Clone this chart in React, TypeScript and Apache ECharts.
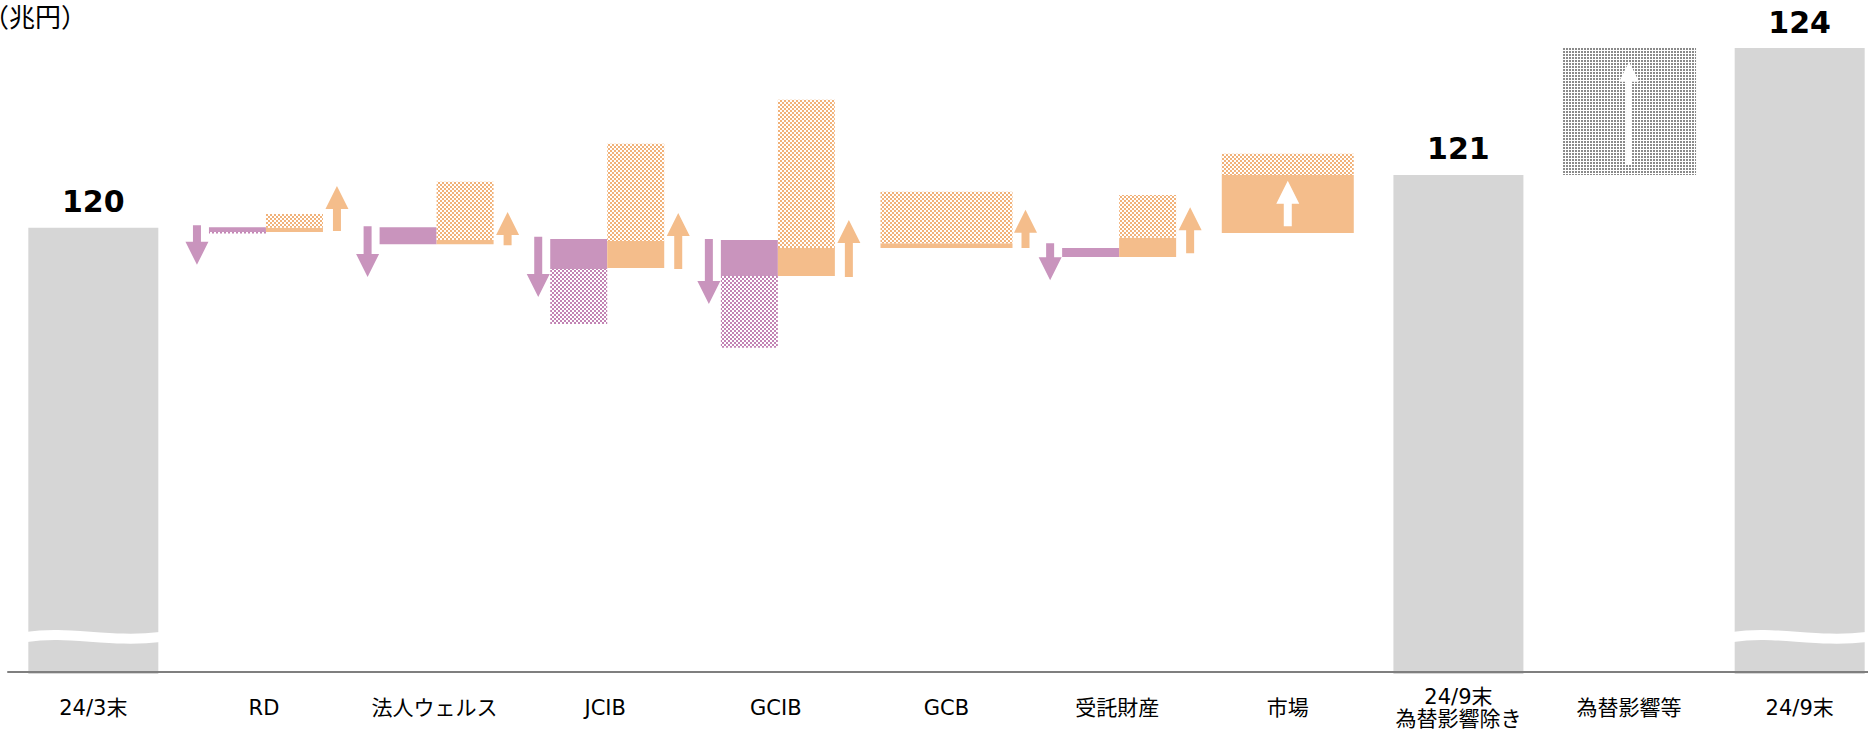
import React, { useEffect, useRef } from 'react';
import * as echarts from 'echarts';

// ---------- data (兆円) ----------
const N = null;
const categories = [
  '24/3末', 'RD', '法人ウェルス', 'JCIB', 'GCIB', 'GCB', '受託財産', '市場',
  '24/9末\n為替影響除き', '為替影響等', '24/9末',
];
// balance bars
const totals: (number | null)[] = [120.4, N, N, N, N, N, N, N, 121.4, N, 123.8];
// decrease (purple): solid part and hatched extension
const decreaseStart: (number | null)[] = [N, 120.41, 120.41, 120.19, 120.17, N, 120.02, N, N, N, N];
const decreaseEnd: (number | null)[] = [N, 120.32, 120.09, 119.62, 119.49, N, 119.85, N, N, N, N];
const decreaseExtraEnd: (number | null)[] = [N, 120.29, N, 118.58, 118.13, N, N, N, N, N, N];
// increase (orange): solid part and hatched extension
const increaseStart: (number | null)[] = [N, 120.32, 120.09, 119.64, 119.49, 120.02, 119.85, 120.3, N, N, N];
const increaseEnd: (number | null)[] = [N, 120.4, 120.17, 120.15, 120.02, 120.11, 120.21, 121.4, N, N, N];
const increaseExtraEnd: (number | null)[] = [N, 120.66, 121.27, 121.99, 122.82, 121.08, 121.02, 121.8, N, N, N];
// FX effect
const fxStart: (number | null)[] = [N, N, N, N, N, N, N, N, N, 121.4, N];
const fxEnd: (number | null)[] = [N, N, N, N, N, N, N, N, N, 123.8, N];
// arrows
const downArrowStart: (number | null)[] = [N, 120.45, 120.43, 120.23, 120.19, N, 120.11, N, N, N, N];
const downArrowEnd: (number | null)[] = [N, 119.7, 119.47, 119.09, 118.96, N, 119.41, N, N, N, N];
const upArrowStart: (number | null)[] = [N, 120.34, 120.07, 119.62, 119.47, 120.02, 119.92, 120.43, N, 121.59, N];
const upArrowEnd: (number | null)[] = [N, 121.19, 120.7, 120.68, 120.55, 120.74, 120.79, 121.29, N, 123.54, N];

// ---------- styling ----------
const Y_MIN = 112;
const Y_MAX = 124.5;
const BREAK_VALUE = 112.68;
const brokenBars = new Set([0, 10]);
const wideBars = new Set([5, 7]);
const innerArrow = new Set([7, 9]);
const GRAY = '#D6D6D6';
const PURPLE = '#C994BD';
const ORANGE = '#F4BD8B';

function makePattern(color: string, tile: number, cells: number[][]) {
  const c = document.createElement('canvas');
  c.width = tile;
  c.height = tile;
  const ctx = c.getContext('2d')!;
  ctx.fillStyle = '#ffffff';
  ctx.fillRect(0, 0, tile, tile);
  ctx.fillStyle = color;
  cells.forEach(([x, y, w, h]) => ctx.fillRect(x, y, w, h));
  return { image: c.toDataURL(), repeat: 'repeat', imageWidth: tile, imageHeight: tile } as any;
}

const checkerCells = [[0, 0, 2, 2], [2, 2, 2, 2]];

export default function App() {
  const ref = useRef<HTMLDivElement>(null);
  useEffect(() => {
    if (!ref.current) return;
    const chart = echarts.init(ref.current, undefined, { renderer: 'svg' });
    const orangePat = makePattern('#F1B27A', 4, checkerCells);
    const purplePat = makePattern('#C283B4', 4, checkerCells);
    const grayPat = makePattern('#8a8a8a', 3, [[0, 0, 2, 2]]);

    const renderItem = (params: any, api: any) => {
      const i = params.dataIndex;
      const cx = api.coord([i, Y_MIN])[0];
      const Y = (v: number) => api.coord([i, v])[1];
      const children: any[] = [];
      const rect = (x0: number, x1: number, v0: number, v1: number, fill: any) => {
        const a = Y(v0);
        const b = Y(v1);
        children.push({
          type: 'rect',
          shape: { x: x0, y: Math.min(a, b), width: x1 - x0, height: Math.abs(b - a) },
          style: { fill },
        });
      };
      const arrow = (x: number, v0: number, v1: number, fill: string, up: boolean, head: number, shaft: number) => {
        const y0 = Y(v0);
        const y1 = Y(v1);
        const d = up ? 1 : -1;
        const yh = y1 + d * head;
        children.push({
          type: 'polygon',
          shape: {
            points: [
              [x - shaft / 2, y0], [x - shaft / 2, yh], [x - head / 2, yh], [x, y1],
              [x + head / 2, yh], [x + shaft / 2, yh], [x + shaft / 2, y0],
            ],
          },
          style: { fill },
        });
      };

      const t = totals[i];
      if (t != null) {
        const a = Y(t);
        const base = Y(Y_MIN) + 2;
        children.push({
          type: 'rect',
          shape: { x: cx - 65, y: a, width: 130, height: base - a },
          style: { fill: GRAY },
        });
        if (brokenBars.has(i)) {
          const yb = Y(BREAK_VALUE);
          children.push({
            type: 'bezierCurve',
            shape: {
              x1: cx - 67, y1: yb + 1, cpx1: cx - 25, cpy1: yb - 6,
              cpx2: cx + 15, cpy2: yb + 7, x2: cx + 67, y2: yb + 1,
            },
            style: { stroke: '#ffffff', lineWidth: 10, fill: null },
          });
        }
        children.push({
          type: 'text',
          style: {
            text: String(Math.round(t)),
            x: cx,
            y: a - 26,
            align: 'center',
            verticalAlign: 'middle',
            font: 'bold 30px "DejaVu Sans", Verdana, sans-serif',
            fill: '#000000',
          },
        });
      }

      const fs = fxStart[i];
      const fe = fxEnd[i];
      if (fs != null && fe != null) {
        rect(cx - 66, cx + 67, fs, fe, grayPat);
      }

      const ds = decreaseStart[i];
      const de = decreaseEnd[i];
      const is = increaseStart[i];
      const ie = increaseEnd[i];
      const ix = increaseExtraEnd[i];
      const b = cx + 2;
      if (ds != null && de != null) {
        rect(b - 57, b, ds, de, PURPLE);
        const dx = decreaseExtraEnd[i];
        if (dx != null) rect(b - 57, b, de, dx, purplePat);
      }
      if (is != null && ie != null) {
        const wide = wideBars.has(i);
        const x0 = wide ? cx - 66 : b;
        const x1 = wide ? cx + 66 : b + 57;
        rect(x0, x1, is, ie, ORANGE);
        if (ix != null) rect(x0, x1, ie, ix, orangePat);
      }
      const das = downArrowStart[i];
      const dae = downArrowEnd[i];
      if (das != null && dae != null) arrow(b - 69, das, dae, PURPLE, false, 23, 8);
      const uas = upArrowStart[i];
      const uae = upArrowEnd[i];
      if (uas != null && uae != null) {
        if (innerArrow.has(i)) {
          const small = fs != null;
          arrow(cx, uas, uae, '#ffffff', true, small ? 20 : 23, small ? 6 : 8);
        } else {
          const x = wideBars.has(i) ? cx + 79 : b + 71;
          arrow(x, uas, uae, ORANGE, true, 23, 8);
        }
      }
      return { type: 'group', children };
    };

    chart.setOption({
      animation: false,
      grid: { left: 8, right: 0, top: 11, bottom: 59, outerBoundsMode: 'none' },
      xAxis: {
        type: 'category',
        data: categories,
        z: 5,
        axisLine: { lineStyle: { color: '#7f7f7f', width: 2 } },
        axisTick: { show: false },
        splitLine: { show: false },
        axisLabel: {
          interval: 0,
          margin: 36,
          fontSize: 21,
          lineHeight: 22,
          verticalAlign: 'middle',
          color: '#000000',
          fontFamily: '"DejaVu Sans", "Noto Sans CJK JP", sans-serif',
        },
      },
      yAxis: { type: 'value', min: Y_MIN, max: Y_MAX, show: false },
      series: [
        {
          type: 'custom',
          renderItem,
          clip: false,
          encode: { x: 0, y: 1 },
          data: categories.map((_, i) => [i, totals[i] ?? 120]),
        },
      ],
      graphic: [
        {
          type: 'text',
          x: -17,
          y: 15,
          style: {
            text: '（兆円）',
            font: '26px "Noto Sans CJK JP", sans-serif',
            fill: '#000000',
            verticalAlign: 'middle',
          },
        },
      ],
    });
    return () => chart.dispose();
  }, []);
  return (
    <div
      style={{ position: 'absolute', left: 0, top: 0, width: 1868, height: 731, overflow: 'hidden' }}
    >
      <div ref={ref} style={{ width: 1885, height: 731 }} />
    </div>
  );
}
